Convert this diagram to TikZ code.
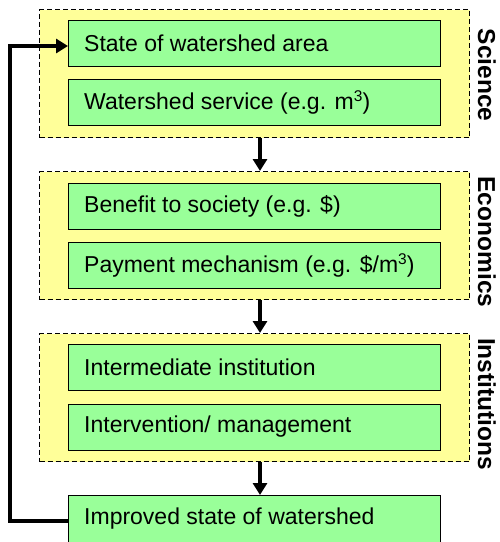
\documentclass[tikz,border=0pt]{standalone}
\usepackage{fontspec}
\setmainfont{Liberation Sans}
\usetikzlibrary{arrows.meta}
\definecolor{paleyellow}{RGB}{255,255,153}
\definecolor{palegreen}{RGB}{153,255,153}
\newcommand{\cubed}{\raisebox{8pt}{\fontsize{15.5}{16}\selectfont 3}}
\begin{document}
\begin{tikzpicture}[x=1pt,y=-1pt,
  group/.style={draw=black, fill=paleyellow, line width=1.2pt, dash pattern=on 5pt off 3pt,
    minimum width=430pt, minimum height=128pt, inner sep=0pt, anchor=north west},
  item/.style={draw=black, fill=palegreen, line width=1.3pt, minimum width=372pt,
    minimum height=46pt, inner sep=0pt, anchor=north west},
  itemtext/.style={anchor=west, inner sep=0pt, font=\fontsize{23}{27}\selectfont},
  side/.style={rotate=-90, font=\bfseries\fontsize{24.5}{28}\selectfont, inner sep=0pt},
  flow/.style={line width=4pt, -{Triangle[length=12pt,width=14pt]}}]
\useasboundingbox (0,0) rectangle (500,542);
% groups
\node[group] (sci) at (39,9) {};
\node[group] (eco) at (39,171) {};
\node[group] (ins) at (39,333) {};
% boxes
\node[item] (s1) at (68,20) {};
\node[item] (s2) at (68,79) {};
\node[item] (e1) at (68,183) {};
\node[item] (e2) at (68,242) {};
\node[item] (i1) at (68,344) {};
\node[item] (i2) at (68,404) {};
\node[item, minimum height=48pt] (imp) at (68,495) {};
% texts
\node[itemtext] (t1) at (84,43) {State of watershed area};
\node[itemtext] (t2) at (84,102) {Watershed service (e.g. m\cubed)};
\node[itemtext] (t3) at (84,206) {Benefit to society (e.g. \$)};
\node[itemtext] (t4) at (84,265) {Payment mechanism (e.g. \$/m\cubed)};
\node[itemtext] (t5) at (84,367) {Intermediate institution};
\node[itemtext] (t6) at (84,427) {Intervention/ management};
\node[itemtext] (t7) at (84,519) {Improved state of watershed};
% side labels
\node[side] (lsci) at (487,75) {Science};
\node[side] (leco) at (487,242) {Economics};
\node[side] (lins) at (487,404) {Institutions};
% arrows
\coordinate (ax) at (260,0);
\draw[flow] (sci.south -| ax) -- (eco.north -| ax);
\draw[flow] (eco.south -| ax) -- (ins.north -| ax);
\draw[flow] (ins.south -| ax) -- (imp.north -| ax);
\coordinate (fb) at (10,0);
\coordinate (fy) at (0,46);
\coordinate (fy2) at (0,521);
\draw[flow, line join=miter] (imp.west |- fy2) -- (fb |- fy2) -- (fb |- fy) -- (s1.west |- fy);
\end{tikzpicture}
\end{document}
